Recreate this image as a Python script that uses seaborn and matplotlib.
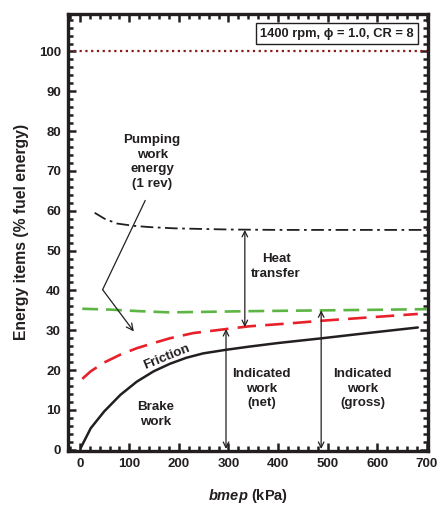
import matplotlib
matplotlib.use("Agg")
import matplotlib.pyplot as plt
from matplotlib.ticker import MultipleLocator
import pandas as pd
import seaborn as sns

# Energy balance vs. brake mean effective pressure
bmep_brake = [2, 22, 49, 82, 115, 149, 182, 215, 249, 295, 342, 400, 489, 580, 682]
brake_work = [0.5, 5.4, 9.6, 13.8, 17.1, 19.7, 21.6, 23.1, 24.2, 25.1, 25.9, 26.8, 28.0, 29.3, 30.7]

bmep_fric = [5, 22, 49, 82, 115, 149, 182, 229, 295, 342, 420, 489, 580, 682]
friction = [17.8, 19.7, 21.9, 23.9, 25.5, 26.8, 28.0, 29.3, 30.3, 31.0, 31.7, 32.4, 33.2, 34.1]

bmep_gross = [5, 60, 120, 180, 240, 342, 489, 600, 700]
gross_work = [35.4, 35.2, 34.8, 34.5, 34.6, 34.8, 35.0, 35.15, 35.3]

bmep_pump = [30, 50, 75, 110, 142, 190, 242, 300, 400, 500, 600, 700]
pumping = [59.5, 58.0, 56.8, 56.2, 55.9, 55.6, 55.45, 55.3, 55.2, 55.2, 55.2, 55.2]

fuel_energy = 100
x_ticks = [0, 100, 200, 300, 400, 500, 600, 700]
y_ticks = [0, 10, 20, 30, 40, 50, 60, 70, 80, 90, 100]

sns.set_theme(style="ticks")
plt.rcParams["font.family"] = ["Liberation Sans", "DejaVu Sans"]
plt.rcParams["font.weight"] = "bold"
plt.rcParams["mathtext.fontset"] = "custom"
plt.rcParams["mathtext.it"] = "Liberation Sans:italic:bold"
plt.rcParams["mathtext.rm"] = "Liberation Sans:bold"
ink = "#231f20"

fig = plt.figure(figsize=(4.41, 5.05), dpi=100)
ax = fig.add_axes([0.154, 0.107, 0.817, 0.866])

df_brake = pd.DataFrame({"bmep": bmep_brake, "val": brake_work})
df_fric = pd.DataFrame({"bmep": bmep_fric, "val": friction})
df_gross = pd.DataFrame({"bmep": bmep_gross, "val": gross_work})
df_pump = pd.DataFrame({"bmep": bmep_pump, "val": pumping})

sns.lineplot(data=df_brake, x="bmep", y="val", ax=ax, color=ink, lw=1.8)
sns.lineplot(data=df_fric, x="bmep", y="val", ax=ax, color="#e8202a", lw=1.9)
ax.lines[-1].set_dashes([7, 3.5])
sns.lineplot(data=df_gross, x="bmep", y="val", ax=ax, color="#5db544", lw=1.9)
ax.lines[-1].set_dashes([6, 3])
sns.lineplot(data=df_pump, x="bmep", y="val", ax=ax, color=ink, lw=1.3)
ax.lines[-1].set_dashes([7, 2.5, 1.5, 2.5])
ax.axhline(fuel_energy, color="#8b1a1a", lw=1.6, ls=(0, (1, 1.6)))

ax.set_xlim(-24, 703)
ax.set_ylim(-0.3, 109.5)
ax.set_xticks(x_ticks)
ax.set_yticks(y_ticks)
ax.xaxis.set_minor_locator(MultipleLocator(20))
ax.yaxis.set_minor_locator(MultipleLocator(2))
ax.tick_params(which="both", direction="in", top=True, right=True, color=ink, width=1.8)
ax.tick_params(which="major", length=5.5, labelsize=9.5, labelcolor=ink, pad=5)
ax.tick_params(which="minor", length=3.5)
for lab in ax.get_xticklabels() + ax.get_yticklabels():
    lab.set_fontweight("bold")
for sp in ax.spines.values():
    sp.set_linewidth(2.4)
    sp.set_color(ink)

ax.set_ylabel("Energy items (% fuel energy)", fontsize=11.3, fontweight="bold", color=ink, labelpad=7)
ax.set_xlabel(r"$\mathit{bmep}$ (kPa)", fontsize=10.5, fontweight="bold", color=ink, labelpad=12)

ax.text(674, 104.5, "1400 rpm, ϕ = 1.0, CR = 8", ha="right", va="center",
        fontsize=9.3, fontweight="bold", color=ink,
        bbox=dict(boxstyle="square,pad=0.35", fc="white", ec=ink, lw=1.0))

tk = dict(ha="center", va="center", fontsize=9.6, fontweight="bold", color=ink, linespacing=1.28)
ax.text(146, 72.2, "Pumping\nwork\nenergy\n(1 rev)", **tk)
ax.text(396, 46, "Heat\ntransfer", **tk)
ax.text(152, 8.8, "Brake\nwork", **tk)
ax.text(367, 15.3, "Indicated\nwork\n(net)", **tk)
ax.text(571, 15.3, "Indicated\nwork\n(gross)", **tk)
ax.text(175, 23.4, "Friction", rotation=22, **tk)

# leader from the pumping label
ax.plot([132, 46], [62.6, 40.2], color=ink, lw=0.9)
ax.annotate("", xy=(109, 29.7), xytext=(46, 40.2),
            arrowprops=dict(arrowstyle="->", color=ink, lw=0.9, mutation_scale=12,
                            shrinkA=0, shrinkB=0))

dbl = dict(arrowstyle="<->", color=ink, lw=0.9, mutation_scale=10, shrinkA=0, shrinkB=0)
ax.annotate("", xy=(333, 55.2), xytext=(333, 30.8), arrowprops=dbl)
ax.annotate("", xy=(295, 30.3), xytext=(295, 0.2), arrowprops=dbl)
ax.annotate("", xy=(487, 35.0), xytext=(487, 0.2), arrowprops=dbl)

fig.savefig("out.png", dpi=100)
